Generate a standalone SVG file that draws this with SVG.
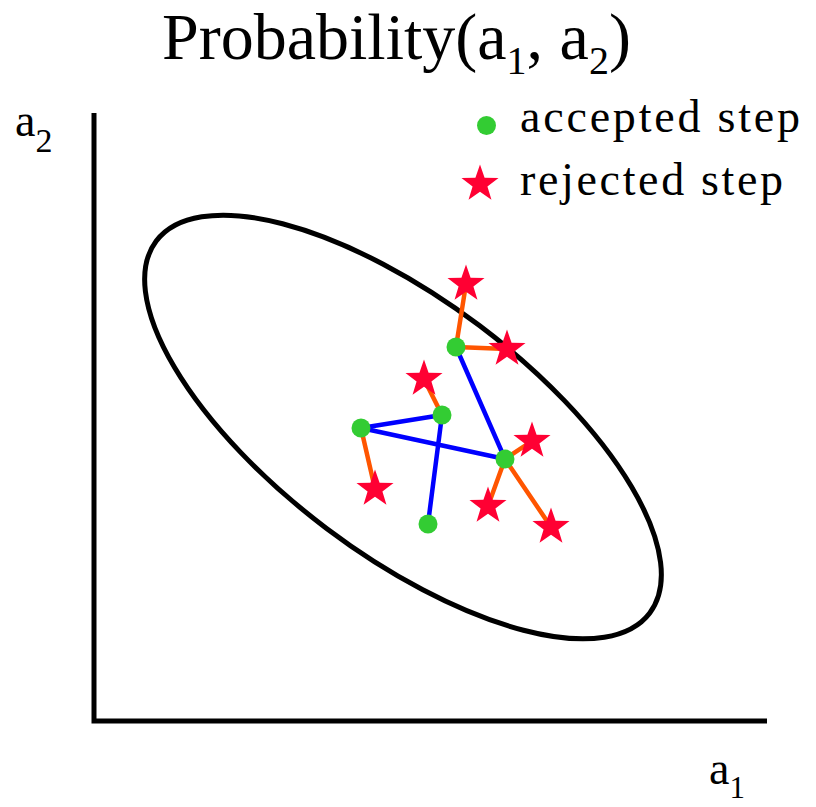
<svg xmlns="http://www.w3.org/2000/svg" xmlns:xlink="http://www.w3.org/1999/xlink" width="816" height="807" viewBox="0 0 816 807">
<style>
text{font-family:"Liberation Serif","Times New Roman",serif;fill:#000}
.axis{stroke:#000;stroke-width:5;fill:none}
.acc{fill:#33CC33}
.rej{fill:#FF0033}
.blue{stroke:#0000FF;stroke-width:4.5;fill:none;stroke-linejoin:round}
.orange{stroke:#FF5500;stroke-width:4.5;fill:none}
</style>
<defs>
<polygon id="star" points="0,-19.5 4.585,-6.31 18.55,-6.03 7.418,2.41 11.46,15.78 0,7.8 -11.46,15.78 -7.418,2.41 -18.55,-6.03 -4.585,-6.31"/>
</defs>
<rect width="816" height="807" fill="#fff"/>
<g id="title">
<text x="162" y="59" font-size="66">Probability(a<tspan font-size="40" dy="15">1</tspan><tspan dy="-15">, a</tspan><tspan font-size="40" dy="15">2</tspan><tspan dy="-15">)</tspan></text>
</g>
<g id="axes">
<path class="axis" d="M94,113 V721 H767"/>
<text x="15" y="136" font-size="46">a<tspan font-size="34" dy="16">2</tspan></text>
<text x="709" y="784" font-size="46">a<tspan font-size="31" dy="14">1</tspan></text>
</g>
<g id="ellipse">
<ellipse cx="403" cy="427" rx="309" ry="127" transform="rotate(37 403 427)" fill="none" stroke="#000" stroke-width="5"/>
</g>
<g id="legend">
<circle class="acc" cx="486.5" cy="125.5" r="9.5"/>
<text x="520" y="132" font-size="46" textLength="280">accepted step</text>
<use href="#star" xlink:href="#star" class="rej" x="480" y="184"/>
<text x="520" y="195" font-size="46" textLength="263">rejected step</text>
</g>
<g id="connectors">
<path class="orange" d="M456,347 L466,284 M456,347 L507,349 M442,415 L424,379 M361,428 L375,489 M505,459 L532,441 M505,459 L488,506 M505,459 L551,527"/>
<path class="blue" d="M428,524 L442,415 L361,428 L505,459 L456,347"/>
</g>
<g id="accepted-steps">
<circle id="p1" class="acc" cx="456" cy="347" r="9.5"/>
<circle id="p2" class="acc" cx="442" cy="415" r="9.5"/>
<circle id="p3" class="acc" cx="361" cy="428" r="9.5"/>
<circle id="p4" class="acc" cx="505" cy="459" r="9.5"/>
<circle id="p5" class="acc" cx="428" cy="524" r="9.5"/>
</g>
<g id="rejected-steps">
<use id="s1" href="#star" xlink:href="#star" class="rej" x="466" y="284"/>
<use id="s2" href="#star" xlink:href="#star" class="rej" x="507" y="349"/>
<use id="s3" href="#star" xlink:href="#star" class="rej" x="424" y="379"/>
<use id="s4" href="#star" xlink:href="#star" class="rej" x="375" y="489"/>
<use id="s5" href="#star" xlink:href="#star" class="rej" x="532" y="441"/>
<use id="s6" href="#star" xlink:href="#star" class="rej" x="488" y="506"/>
<use id="s7" href="#star" xlink:href="#star" class="rej" x="551" y="527"/>
</g>
</svg>
